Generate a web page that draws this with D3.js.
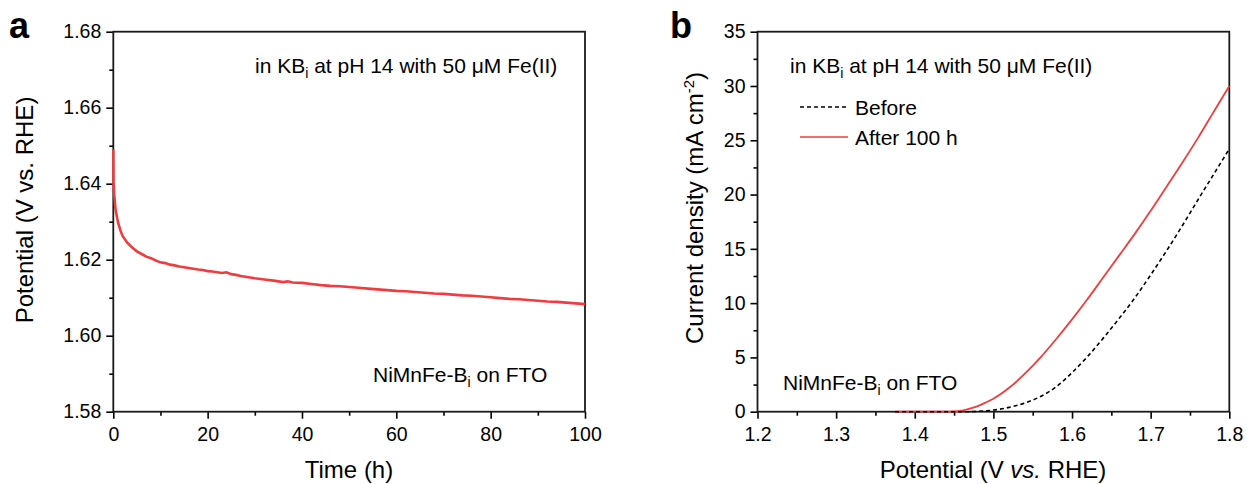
<script src="https://d3js.org/d3.v7.min.js"></script>
<style>
  body { margin: 0; background: #fff; }
  text { font-family: "Liberation Sans", Arial, sans-serif; fill: #000; }
</style>
<div id="container"></div>
<script>
  // panel a: potential vs time (chronopotentiometry)
  const timeH = [0, 0.05, 0.2, 0.5, 1, 1.5, 2, 3, 4, 5, 6, 7, 8, 9, 10, 11, 12, 13, 14, 15,
    16, 17, 18, 19, 20, 21, 22, 23, 24, 25, 26, 27, 28, 29, 30, 32, 34, 36, 37, 38, 40,
    42, 44, 46, 48, 50, 52, 54, 56, 58, 60, 62, 64, 66, 68, 70, 72, 74, 76, 78, 80,
    82, 84, 86, 88, 90, 92, 94, 96, 98, 100];
  const potentialA = [1.6490, 1.6400, 1.6370, 1.6330, 1.6298, 1.6277, 1.6262, 1.6244, 1.6232, 1.6222,
    1.6215, 1.6208, 1.6204, 1.6198, 1.6193, 1.6191, 1.6187, 1.6185, 1.6182, 1.6180,
    1.6178, 1.6176, 1.6174, 1.6173, 1.6170, 1.6169, 1.6167, 1.6165, 1.6167, 1.6162,
    1.6160, 1.6157, 1.6155, 1.6153, 1.6151, 1.6148, 1.6145, 1.6141, 1.6143, 1.6140, 1.6139,
    1.6136, 1.6133, 1.6131, 1.6130, 1.6128, 1.6126, 1.6124, 1.6122, 1.6120, 1.6118,
    1.6117, 1.6115, 1.6113, 1.6111, 1.6110, 1.6108, 1.6106, 1.6105, 1.6103, 1.6101,
    1.6099, 1.6097, 1.6096, 1.6094, 1.6092, 1.6090, 1.6089, 1.6087, 1.6085, 1.6083];

  // panel b: LSV before / after
  const potB = [1.375, 1.40, 1.42, 1.44, 1.45, 1.46, 1.47, 1.48, 1.49, 1.50, 1.52, 1.54, 1.56,
    1.58, 1.60, 1.62, 1.64, 1.66, 1.68, 1.70, 1.72, 1.74, 1.76, 1.78, 1.80];
  const jBefore = [0, 0, 0, 0, 0, 0, 0, 0.03, 0.08, 0.15, 0.4, 0.8, 1.4,
    2.3, 3.6, 5.1, 6.8, 8.6, 10.5, 12.6, 14.8, 17.1, 19.5, 21.85, 24.2];
  const jAfter = [0, 0, 0, 0, 0.02, 0.1, 0.28, 0.52, 0.84, 1.2, 2.2, 3.5, 5.0,
    6.7, 8.5, 10.4, 12.4, 14.4, 16.4, 18.5, 20.7, 22.9, 25.2, 27.6, 30.0];

  const ticksA_x = [0, 20, 40, 60, 80, 100];
  const ticksA_y = [1.58, 1.60, 1.62, 1.64, 1.66, 1.68];
  const ticksB_x = [1.2, 1.3, 1.4, 1.5, 1.6, 1.7, 1.8];
  const ticksB_y = [0, 5, 10, 15, 20, 25, 30, 35];

  const width = 1247, height = 484;
  const red = "#f03c3c";
  const plotTop = 31.7, plotBottom = 411.7;

  var svg = d3.select("#container").append("svg")
    .attr("width", width)
    .attr("height", height);

  function drawAxes(g, x, y, xt, yt, xMinor, yMinor, xfmt, yfmt) {
    var xr = x.range(), yr = y.range();
    // minor ticks
    g.append("g").attr("transform", "translate(0," + yr[0] + ")")
      .call(d3.axisBottom(x).tickValues(xMinor).tickSize(4).tickFormat(""))
      .call(s => s.select(".domain").remove());
    g.append("g").attr("transform", "translate(" + xr[0] + ",0)")
      .call(d3.axisLeft(y).tickValues(yMinor).tickSize(4).tickFormat(""))
      .call(s => s.select(".domain").remove());
    // major
    var ax = g.append("g").attr("transform", "translate(0," + yr[0] + ")")
      .call(d3.axisBottom(x).tickValues(xt).tickSize(7).tickPadding(8).tickFormat(xfmt));
    var ay = g.append("g").attr("transform", "translate(" + xr[0] + ",0)")
      .call(d3.axisLeft(y).tickValues(yt).tickSize(7).tickPadding(5).tickFormat(yfmt));
    [ax, ay].forEach(a => {
      a.select(".domain").remove();
      a.selectAll("text").style("font-size", "19.5px").attr("fill", "#000")
        .style("font-family", '"Liberation Sans", Arial, sans-serif');
    });
    g.selectAll(".tick line").attr("stroke", "#000").attr("stroke-width", 1.6);
    // frame
    g.append("rect")
      .attr("x", xr[0]).attr("y", yr[1])
      .attr("width", xr[1] - xr[0]).attr("height", yr[0] - yr[1])
      .attr("fill", "none").attr("stroke", "#1a1a1a").attr("stroke-width", 1.8);
  }

  // label with subscript i
  function subLabel(g, x, y, before, after) {
    var t = g.append("text").attr("x", x).attr("y", y).style("font-size", "21px");
    t.append("tspan").text(before);
    t.append("tspan").text("i").style("font-size", "14px").attr("dy", 5);
    t.append("tspan").text(after).attr("dy", -5);
    return t;
  }

  // ---------- panel a ----------
  var gA = svg.append("g");
  var xA = d3.scaleLinear().domain([0, 100]).range([113.3, 585]);
  var yA = d3.scaleLinear().domain([1.58, 1.68]).range([plotBottom, plotTop]);

  drawAxes(gA, xA, yA, ticksA_x, ticksA_y,
    d3.range(10, 100, 20), [1.59, 1.61, 1.63, 1.65, 1.67],
    d3.format("d"), d3.format(".2f"));

  gA.append("path")
    .datum(timeH.map((t, i) => [t, potentialA[i]]))
    .attr("fill", "none")
    .attr("stroke", red)
    .attr("stroke-width", 2.6)
    .attr("d", d3.line().x(d => xA(d[0])).y(d => yA(d[1])));

  svg.append("text").attr("x", 9).attr("y", 38)
    .style("font-size", "36px").style("font-weight", "bold").text("a");

  gA.append("text").attr("x", 349).attr("y", 478).attr("text-anchor", "middle")
    .style("font-size", "24px").text("Time (h)");
  gA.append("text").attr("transform", "translate(33,210) rotate(-90)")
    .attr("text-anchor", "middle").style("font-size", "24px")
    .text("Potential (V vs. RHE)");

  subLabel(gA, 255, 73, "in KB", " at pH 14 with 50 \u03bcM Fe(II)");
  subLabel(gA, 373, 382, "NiMnFe-B", " on FTO");

  // ---------- panel b ----------
  var gB = svg.append("g");
  var xB = d3.scaleLinear().domain([1.2, 1.8]).range([757.5, 1229.3]);
  var yB = d3.scaleLinear().domain([0, 35]).range([plotBottom, plotTop]);

  drawAxes(gB, xB, yB, ticksB_x, ticksB_y,
    [1.25, 1.35, 1.45, 1.55, 1.65, 1.75], [2.5, 7.5, 12.5, 17.5, 22.5, 27.5, 32.5],
    d3.format(".1f"), d3.format("d"));

  var lineB = d3.line().curve(d3.curveMonotoneX).x(d => xB(d[0])).y(d => yB(d[1]));

  gB.append("path")
    .datum(potB.map((e, i) => [e, jAfter[i]]))
    .attr("fill", "none").attr("stroke", red).attr("stroke-width", 1.8)
    .attr("d", lineB);
  gB.append("path")
    .datum(potB.map((e, i) => [e, jBefore[i]]))
    .attr("fill", "none").attr("stroke", "#000").attr("stroke-width", 1.6)
    .attr("stroke-dasharray", "4,3")
    .attr("d", lineB);

  svg.append("text").attr("x", 670).attr("y", 38)
    .style("font-size", "36px").style("font-weight", "bold").text("b");

  var xt = gB.append("text").attr("x", 993).attr("y", 478).attr("text-anchor", "middle")
    .style("font-size", "24px");
  xt.append("tspan").text("Potential (V ");
  xt.append("tspan").text("vs.").style("font-style", "italic");
  xt.append("tspan").text(" RHE)");

  var yt = gB.append("text").attr("transform", "translate(703,208) rotate(-90)")
    .attr("text-anchor", "middle").style("font-size", "24px");
  yt.append("tspan").text("Current density (mA cm");
  yt.append("tspan").text("-2").style("font-size", "15px").attr("dy", -9);
  yt.append("tspan").text(")").attr("dy", 9);

  subLabel(gB, 790, 73, "in KB", " at pH 14 with 50 \u03bcM Fe(II)");
  subLabel(gB, 783, 390, "NiMnFe-B", " on FTO");

  // legend
  var legend = [
    { name: "Before", color: "#000", dash: "4,3", y: 107 },
    { name: "After 100 h", color: red, dash: null, y: 137 }
  ];
  legend.forEach(l => {
    gB.append("line")
      .attr("x1", 800).attr("x2", 848).attr("y1", l.y).attr("y2", l.y)
      .attr("stroke", l.color).attr("stroke-width", 1.6)
      .attr("stroke-dasharray", l.dash);
    gB.append("text").attr("x", 855).attr("y", l.y + 7.5)
      .style("font-size", "21px").text(l.name);
  });
</script>
